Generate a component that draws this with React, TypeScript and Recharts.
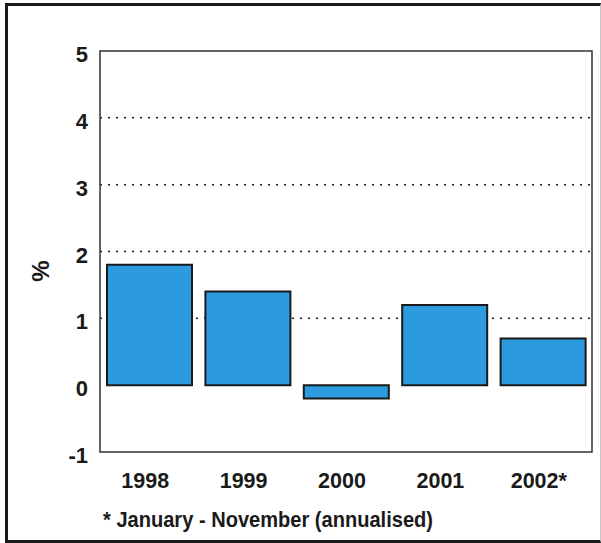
import React from 'react';
import { BarChart, Bar, XAxis, YAxis, CartesianGrid, ReferenceArea } from 'recharts';

// Annual change, per cent
const years = ['1998', '1999', '2000', '2001', '2002*'];
const values = [1.8, 1.4, -0.2, 1.2, 0.7];
const yTicks = [-1, 0, 1, 2, 3, 4, 5];
const gridValues = [1, 2, 3, 4];
const footnote = '* January - November (annualised)';
const unitLabel = '%';

const data = years.map((year, i) => ({ year, value: values[i] }));

const FONT = '"Liberation Sans", Arial, Helvetica, sans-serif';
const INK = '#1a1a1a';
const BAR_FILL = '#2c9ade';

const YTick = (props: any) => {
  const { x, y, payload } = props;
  return (
    <text x={x} y={y + 11} textAnchor="end" fontFamily={FONT} fontWeight="bold" fontSize={22} fill={INK}>
      {payload.value}
    </text>
  );
};

const XTick = (props: any) => {
  const { x, y, payload } = props;
  return (
    <text x={x - 4} y={y + 36} textAnchor="middle" fontFamily={FONT} fontWeight="bold" fontSize={21.5} fill={INK}>
      {payload.value}
    </text>
  );
};

export default function App() {
  return (
    <div style={{ position: 'absolute', left: 0, top: 0, width: 601, height: 543, background: '#fff' }}>
      <div
        style={{
          position: 'absolute',
          left: 5,
          top: 3,
          width: 596,
          height: 540,
          boxSizing: 'border-box',
          borderLeft: `3px solid ${INK}`,
          borderTop: `3px solid ${INK}`,
          borderBottom: `3px solid ${INK}`,
          borderRight: '1px solid #c8c8c8',
        }}
      />
      <div style={{ position: 'absolute', left: 0, top: 0 }}>
        <BarChart
          width={601}
          height={543}
          data={data}
          margin={{ top: 51, right: 9, left: 40, bottom: 61 }}
        >
          <CartesianGrid
            vertical={false}
            horizontalValues={gridValues}
            stroke={INK}
            strokeWidth={1.5}
            strokeDasharray="2 6"
          />
          <XAxis
            dataKey="year"
            height={30}
            axisLine={false}
            tickLine={false}
            tickSize={0}
            tickMargin={0}
            tick={<XTick />}
            interval={0}
          />
          <YAxis
            domain={[-1, 5]}
            ticks={yTicks}
            width={60}
            axisLine={false}
            tickLine={false}
            tickSize={0}
            tickMargin={12}
            tick={<YTick />}
            interval={0}
          />
          <ReferenceArea y1={-1} y2={5} fill="none" stroke="#333" strokeWidth={1.5} />
          <Bar
            dataKey="value"
            fill={BAR_FILL}
            stroke={INK}
            strokeWidth={2}
            barSize={85}
            isAnimationActive={false}
          />
        </BarChart>
      </div>
      <svg width={601} height={543} style={{ position: 'absolute', left: 0, top: 0, pointerEvents: 'none' }}>
        <text
          x={0}
          y={0}
          transform="translate(49, 271) rotate(-90)"
          textAnchor="middle"
          fontFamily={FONT}
          fontWeight="bold"
          fontSize={24}
          fill={INK}
        >
          {unitLabel}
        </text>
        <text
          x={103}
          y={527}
          fontFamily={FONT}
          fontWeight="bold"
          fontSize={22}
          textLength={330}
          lengthAdjust="spacingAndGlyphs"
          fill={INK}
        >
          {footnote}
        </text>
      </svg>
    </div>
  );
}
